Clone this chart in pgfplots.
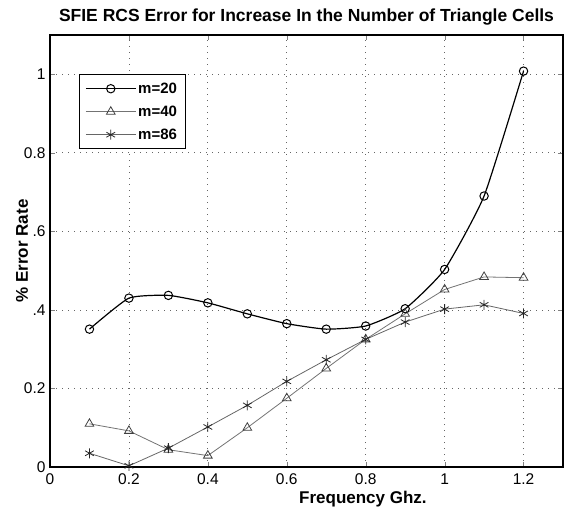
\documentclass[border=0pt]{standalone}
\usepackage{pgfplots}
\pgfplotsset{compat=1.18}
\usepackage{fontspec}
\setmainfont{Liberation Sans}
\begin{document}
\begin{tikzpicture}
\begin{axis}[
  scale only axis,
  width=513pt, height=432pt,
  xmin=0, xmax=1.3, ymin=0, ymax=1.1,
  xtick={0,0.2,0.4,0.6,0.8,1,1.2},
  xticklabels={0,0.2,0.4,0.6,0.8,1,1.2},
  ytick={0,0.2,0.4,0.6,0.8,1},
  yticklabels={0,0.2,.4,.6,0.8,1},
  /pgf/number format/assume math mode=true,
  tick label style={font=\fontsize{15.5}{17}\selectfont},
  xticklabel style={yshift=-3pt},
  yticklabel style={xshift=-1pt},
  tick align=inside, tickpos=both, major tick length=5pt,
  grid=major,
  major grid style={black!60, dash pattern=on 1pt off 5pt, line width=0.7pt},
  axis line style={line width=1.1pt},
  title={\textbf{SFIE RCS Error for Increase In the Number of Triangle Cells}},
  title style={font=\fontsize{17.5}{20}\selectfont, at={(axis description cs:0.5,1)}, anchor=center, yshift=12pt},
  xlabel={\textbf{Frequency Ghz.}},
  ylabel={\textbf{\% Error Rate}},
  label style={font=\fontsize{17}{20}\selectfont},
  xlabel style={at={(axis description cs:0.61,0)}, anchor=center, yshift=-32pt},
  ylabel style={at={(axis description cs:0,0.5)}, anchor=center, yshift=28pt},
  legend style={at={(axis cs:0.0733,1.0)}, anchor=north west,
    font=\bfseries\fontsize{15}{17}\selectfont, draw=black, line width=0.9pt,
    row sep=7pt, inner xsep=6pt, inner ysep=6pt,
    nodes={inner sep=2pt, text height=11pt, text depth=1pt},
    /tikz/every even column/.append style={column sep=2pt}},
  legend cell align=left,
  legend image code/.code={\draw[mark repeat=2,mark phase=2,#1] plot coordinates {(0pt,0pt) (25pt,0pt) (50pt,0pt)};},
  legend image post style={line width=0.8pt},
]
\addplot[black, line width=1.2pt, smooth, tension=0.3, mark=o, mark size=4.2pt, mark options={solid, line width=1pt}] coordinates {
(0.1,0.351) (0.2,0.430) (0.3,0.437) (0.4,0.418) (0.5,0.390) (0.6,0.365)
(0.7,0.351) (0.8,0.359) (0.9,0.403) (1.0,0.503) (1.1,0.690) (1.2,1.008)};
\addlegendentry{m=20}
\addplot[black!55, line width=0.8pt, mark=triangle, mark size=5pt, mark options={solid, black!75, line width=0.8pt}] coordinates {
(0.1,0.110) (0.2,0.092) (0.3,0.044) (0.4,0.029) (0.5,0.100) (0.6,0.175)
(0.7,0.251) (0.8,0.325) (0.9,0.390) (1.0,0.452) (1.1,0.484) (1.2,0.482)};
\addlegendentry{m=40}
\addplot[black!60, line width=0.8pt, mark=asterisk, mark size=5pt, mark options={solid, black!85, line width=0.8pt}] coordinates {
(0.1,0.035) (0.2,0.003) (0.3,0.048) (0.4,0.102) (0.5,0.157) (0.6,0.218)
(0.7,0.273) (0.8,0.325) (0.9,0.369) (1.0,0.402) (1.1,0.413) (1.2,0.391)};
\addlegendentry{m=86}
\end{axis}
\pgfresetboundingbox
\path[use as bounding box] ([xshift=-50pt,yshift=-44pt]current axis.south west) rectangle ([xshift=4pt,yshift=35pt]current axis.north east);
\end{tikzpicture}
\end{document}
